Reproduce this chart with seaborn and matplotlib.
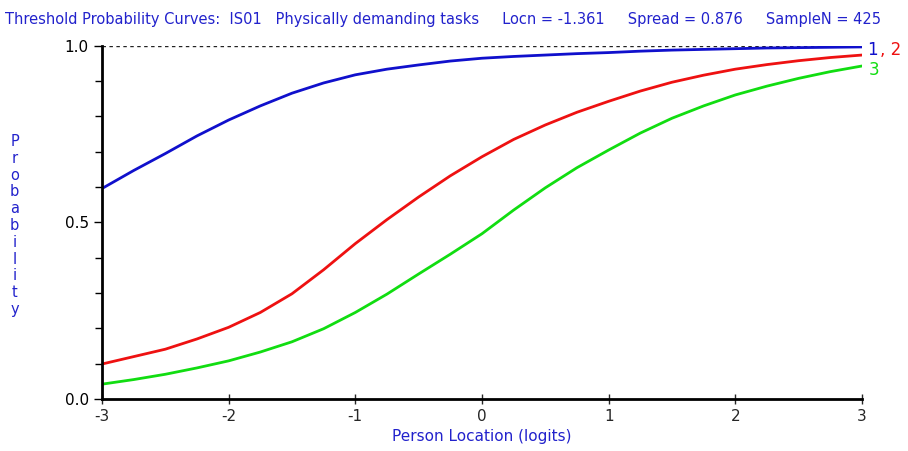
import numpy as np
import pandas as pd
import matplotlib.pyplot as plt
import seaborn as sns

# person location (logits)
loc = [-3, -2.75, -2.5, -2.25, -2, -1.75, -1.5, -1.25, -1, -0.75, -0.5, -0.25, 0,
       0.25, 0.5, 0.75, 1, 1.25, 1.5, 1.75, 2, 2.25, 2.5, 2.75, 3]

thr1 = [0.596, 0.647, 0.695, 0.745, 0.79, 0.83, 0.866, 0.895, 0.918, 0.934, 0.946, 0.957, 0.965,
        0.97, 0.974, 0.978, 0.981, 0.985, 0.988, 0.99, 0.992, 0.994, 0.995, 0.996, 0.997]
thr2 = [0.099, 0.12, 0.141, 0.17, 0.203, 0.245, 0.298, 0.366, 0.44, 0.508, 0.572, 0.632, 0.686,
        0.735, 0.776, 0.812, 0.843, 0.872, 0.897, 0.917, 0.934, 0.947, 0.958, 0.967, 0.974]
thr3 = [0.042, 0.055, 0.07, 0.088, 0.108, 0.133, 0.162, 0.199, 0.245, 0.297, 0.354, 0.41, 0.468,
        0.535, 0.598, 0.655, 0.705, 0.753, 0.795, 0.83, 0.861, 0.886, 0.908, 0.927, 0.943]

sns.set_style('white')
plt.rcParams['font.family'] = ['DejaVu Sans']

df = pd.DataFrame({'loc': loc * 3,
                   'prob': thr1 + thr2 + thr3,
                   'thr': ['1'] * len(loc) + ['2'] * len(loc) + ['3'] * len(loc)})
colores = {'1': '#1010cc', '2': '#ee1111', '3': '#11dd11'}

fig = plt.figure(figsize=(9.08, 4.51), dpi=100)
ax = fig.add_axes([0.1123, 0.1153, 0.837, 0.783])
ax.axhline(1.0, color='#222222', linestyle=(0, (2.5, 2.5)), linewidth=1)
sns.lineplot(data=df, x='loc', y='prob', hue='thr', palette=colores, linewidth=2,
             legend=False, ax=ax)

ax.set_xlim(-3, 3)
ax.set_ylim(0, 1)
ax.set_xticks([-3, -2, -1, 0, 1, 2, 3])
ax.set_xticklabels(['-3', '-2', '-1', '0', '1', '2', '3'])
ax.set_yticks([0, 0.5, 1.0])
ax.set_yticklabels(['0.0', '0.5', '1.0'])
ax.set_yticks(np.arange(0.1, 1.0, 0.1), minor=True)
ax.tick_params(axis='y', which='both', direction='out', length=6, width=1, left=True,
               labelsize=11, colors='black')
ax.tick_params(axis='y', which='minor', length=5)
ax.tick_params(axis='x', direction='inout', length=7, width=1, bottom=True, labelsize=11)
for s in ['top', 'right']:
    ax.spines[s].set_visible(False)
for s in ['left', 'bottom']:
    ax.spines[s].set_color('black')
    ax.spines[s].set_linewidth(2)
ax.set_xlabel('Person Location (logits)', color='#2222cc', fontsize=11, labelpad=4)
ax.set_ylabel('')

fig.text(0.016, 0.5, '\n'.join('Probability'), color='#2222cc', fontsize=10.5,
         ha='center', va='center', linespacing=1.15)
fig.text(0.006, 0.957, 'Threshold Probability Curves:  IS01   Physically demanding tasks     '
         'Locn = -1.361     Spread = 0.876     SampleN = 425',
         color='#2222cc', fontsize=10.5, ha='left', va='center')

fig.text(0.955, 0.89, '1', color='#1010cc', fontsize=12, ha='left', va='center')
fig.text(0.969, 0.89, ', 2', color='#ee1111', fontsize=12, ha='left', va='center')
fig.text(0.957, 0.845, '3', color='#11dd11', fontsize=12, ha='left', va='center')

plt.savefig('out.png', dpi=100)
